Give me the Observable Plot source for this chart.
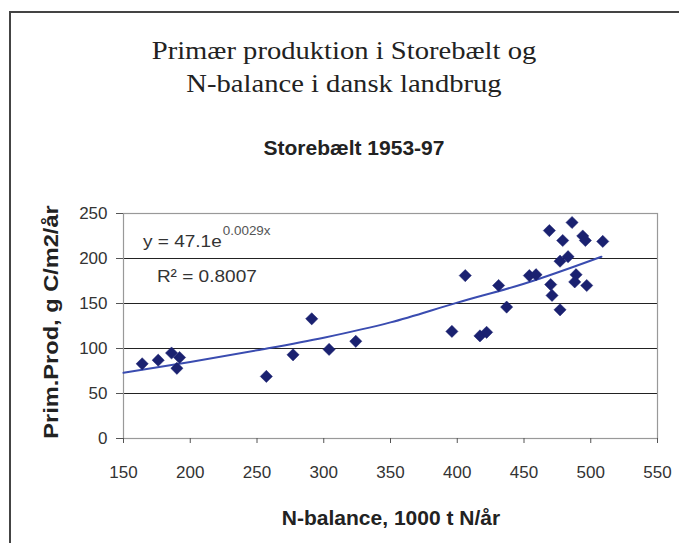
<!DOCTYPE html>
<html>
<head>
<meta charset="utf-8">
<script src="https://cdn.jsdelivr.net/npm/d3@7"></script>
<script src="https://cdn.jsdelivr.net/npm/@observablehq/plot@0.6"></script>
<style>
  html, body { margin: 0; padding: 0; background: #fff; overflow: hidden; }
  #wrap { position: relative; width: 679px; height: 543px; overflow: hidden; background: #fff; }
  #wrap svg { position: absolute; left: 0; top: 0; }
  .ov { position: absolute; white-space: nowrap; color: #222; }
  #title { left: 44px; width: 600px; top: 34px; text-align: center; font-family: "Liberation Serif", "Times New Roman", serif; font-size: 26px; line-height: 33px; transform: scaleX(1.1); transform-origin: 50% 50%; }
  #subtitle { left: 204px; width: 300px; top: 136px; text-align: center; font-family: "Liberation Sans", Arial, sans-serif; font-weight: bold; font-size: 21px; line-height: 24px; }
  #xlabel { left: 241px; width: 300px; top: 506px; text-align: center; font-family: "Liberation Sans", Arial, sans-serif; font-weight: bold; font-size: 21px; line-height: 24px; }
  #ylabel { left: -99px; width: 300px; top: 309.5px; height: 24px; text-align: center; font-family: "Liberation Sans", Arial, sans-serif; font-weight: bold; font-size: 20px; line-height: 24px; transform: rotate(-90deg) scaleX(1.18); transform-origin: 50% 50%; }
  #border { position: absolute; left: 9px; top: 11px; width: 800px; height: 700px; border-left: 2px solid #444; border-top: 2px solid #444; pointer-events: none; }
</style>
</head>
<body>
<div id="wrap">
  <div id="chart"></div>
  <div id="title" class="ov">Primær produktion i Storebælt og<br>N-balance i dansk landbrug</div>
  <div id="subtitle" class="ov">Storebælt 1953-97</div>
  <div id="xlabel" class="ov">N-balance, 1000 t N/år</div>
  <div id="ylabel" class="ov">Prim.Prod, g C/m2/år</div>
  <div id="border"></div>
</div>
<script>
// Observations: N-balance (1000 t N/år) vs primary production (g C/m2/år)
const nBalance = [164,176,186,192,190,257,277,291,304,324,396,406,417,422,431,437,454,459,469,470,471,477,479,477,483,486,489,488,494,496,497,509];
const primProd = [83,87,95,90,78,69,93,133,99,108,119,181,114,118,170,146,181,182,231,171,159,143,220,197,202,240,182,174,225,220,170,219];

// Exponential trend line as drawn
const trendX = [150,200,250,300,350,400,450,508];
const trendY = [73,85,98,112,129,151,172,202];

// Axis ticks
const xTicks = [150,200,250,300,350,400,450,500,550];
const yTicks = [0,50,100,150,200,250];
const gridY = [50,100,150,200];

// Annotation texts and anchor positions (data coordinates)
const eqMain = ["y = 47.1e"];
const eqExp = ["0.0029x"];
const eqAnchorX = [223.6];
const eqAnchorY = [212.5];
const r2Text = ["R² = 0.8007"];
const r2X = [175];
const r2Y = [173.7];

const points = nBalance.map((x, i) => ({x, y: primProd[i]}));
const trend = trendX.map((x, i) => ({x, y: trendY[i]}));

const chart = Plot.plot({
  width: 679,
  height: 543,
  marginLeft: 123,
  marginRight: 22,
  marginTop: 213,
  marginBottom: 105,
  style: {fontFamily: "'Liberation Sans', Arial, sans-serif", fontSize: "17px", color: "#222", background: "transparent"},
  x: {domain: [150, 550], ticks: xTicks, label: null},
  y: {domain: [0, 250], ticks: yTicks, label: null},
  marks: [
    Plot.ruleY(gridY, {stroke: "#222", strokeWidth: 1.2}),
    Plot.frame({stroke: "#999", strokeWidth: 1.2}),
    Plot.axisX({ticks: xTicks, tickSize: 5, tickPadding: 22, stroke: "#555", fill: "#333", label: null}),
    Plot.axisY({ticks: yTicks, tickSize: 7, tickPadding: 9, stroke: "#555", fill: "#333", label: null}),
    Plot.line(trend, {x: "x", y: "y", stroke: "#3a4cb0", strokeWidth: 2, curve: "monotone-x"}),
    Plot.dot(points, {x: "x", y: "y", symbol: "diamond2", r: 5.5, fill: "#1a2170", stroke: "#1a2170", strokeWidth: 0.5}),
    Plot.text(eqMain, {x: eqAnchorX, y: eqAnchorY, text: d => d, textAnchor: "end", lineAnchor: "bottom", fontSize: 17, fill: "#333"}),
    Plot.text(eqExp, {x: eqAnchorX, y: eqAnchorY, text: d => d, textAnchor: "start", lineAnchor: "bottom", dy: -12, dx: 1, fontSize: 12, fill: "#555"}),
    Plot.text(r2Text, {x: r2X, y: r2Y, text: d => d, textAnchor: "start", lineAnchor: "bottom", fontSize: 17, fill: "#333"})
  ]
});
document.getElementById("chart").appendChild(chart);

// Widen the annotation glyphs horizontally (as in the reference), anchored at each text's own point
d3.select(chart).selectAll('g[aria-label="text"] text').each(function() {
  const el = d3.select(this);
  const t = el.attr("transform") || "";
  const x = +(el.attr("x") || 0), y = +(el.attr("y") || 0);
  el.attr("transform", `${t} translate(${x},${y}) scale(1.12,1) translate(${-x},${-y})`);
});
</script>
</body>
</html>
